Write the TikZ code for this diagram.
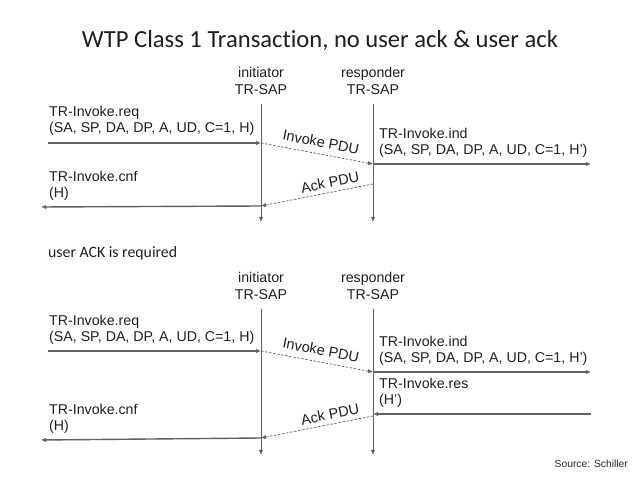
\documentclass[tikz,border=0pt]{standalone}
\usepackage{fontspec}
\setmainfont{Liberation Sans}
\newfontfamily\calfont{Carlito}[Ligatures={NoCommon,NoContextual,NoDiscretionary}]
\usetikzlibrary{arrows.meta}
\begin{document}
\begin{tikzpicture}[x=1pt,y=-1pt,
  lbl/.style={font=\fontsize{14.2}{16}\selectfont, text=black!88, inner sep=0pt, anchor=west, align=left},
  hdr/.style={font=\fontsize{14.2}{17}\selectfont, text=black!88, inner sep=0pt, align=center},
  pdulbl/.style={font=\fontsize{14.5}{16}\selectfont, text=black!88, inner sep=0pt},
  msg/.style={draw=black!62, line width=1.4pt, -{Latex[length=5pt,width=4.5pt]}},
  pdu/.style={draw=black!62, line width=0.7pt, dash pattern=on 2.5pt off 1.6pt, -{Latex[length=5pt,width=4.5pt]}},
  life/.style={draw=black!62, line width=1pt, -{Latex[length=5pt,width=4.5pt]}},
]
\useasboundingbox (0,0) rectangle (638,478);

\node[font=\calfont\fontsize{24.6}{28}\selectfont, text=black!88, inner sep=0pt] (title) at (320,41) {WTP Class 1 Transaction, no user ack \& user ack};

% ---------- top diagram ----------
\node[hdr] (i1lab) at (261,80.5) {initiator\\TR-SAP};
\node[hdr] (r1lab) at (373,80.5) {responder\\TR-SAP};
\coordinate (i1t) at (261,104);
\coordinate (i1b) at (261,222);
\coordinate (r1t) at (373,104);
\coordinate (r1b) at (373,222);
\draw[life] (i1t) -- (i1b);
\draw[life] (r1t) -- (r1b);

\node[lbl] (req1) at (49,121) {TR-Invoke.req\\(SA, SP, DA, DP, A, UD, C=1, H)};
\coordinate (req1s) at (48,143);
\coordinate (req1e) at (261,143);
\draw[msg] (req1s) -- (req1e);

\coordinate (inv1e) at (373,164);
\draw[pdu] (req1e) -- (inv1e);
\node[pdulbl, rotate=-11] (inv1lab) at (321,142) {Invoke PDU};

\node[lbl] (ind1) at (379,143) {TR-Invoke.ind\\(SA, SP, DA, DP, A, UD, C=1, H')};
\coordinate (ind1e) at (591,164);
\draw[msg] (inv1e) -- (ind1e);

\coordinate (ack1s) at (373,184);
\coordinate (ack1e) at (261,206);
\draw[pdu] (ack1s) -- (ack1e);
\node[pdulbl, rotate=11] (ack1lab) at (330,182.5) {Ack PDU};

\node[lbl] (cnf1) at (49,186) {TR-Invoke.cnf\\(H)};
\coordinate (cnf1e) at (41,207);
\draw[msg] (ack1e) -- (cnf1e);

% ---------- middle text ----------
\node[font=\calfont\fontsize{15.8}{18}\selectfont, text=black!88, inner sep=0pt, anchor=west] (uack) at (48,253) {user ACK is required};

% ---------- bottom diagram ----------
\node[hdr] (i2lab) at (261,286) {initiator\\TR-SAP};
\node[hdr] (r2lab) at (373,286) {responder\\TR-SAP};
\coordinate (i2t) at (261,309);
\coordinate (i2b) at (261,455);
\coordinate (r2t) at (373,309);
\coordinate (r2b) at (373,455);
\draw[life] (i2t) -- (i2b);
\draw[life] (r2t) -- (r2b);

\node[lbl] (req2) at (49,330) {TR-Invoke.req\\(SA, SP, DA, DP, A, UD, C=1, H)};
\coordinate (req2s) at (48,351);
\coordinate (req2e) at (261,351);
\draw[msg] (req2s) -- (req2e);

\coordinate (inv2e) at (373,372);
\draw[pdu] (req2e) -- (inv2e);
\node[pdulbl, rotate=-11] (inv2lab) at (321,350) {Invoke PDU};

\node[lbl] (ind2) at (379,350.5) {TR-Invoke.ind\\(SA, SP, DA, DP, A, UD, C=1, H')};
\coordinate (ind2e) at (591,372);
\draw[msg] (inv2e) -- (ind2e);

\node[lbl] (res2) at (379,392.5) {TR-Invoke.res\\(H')};
\coordinate (res2s) at (591,414);
\coordinate (res2e) at (373,414);
\draw[msg] (res2s) -- (res2e);

\coordinate (ack2s) at (373,416);
\coordinate (ack2e) at (261,438);
\draw[pdu] (ack2s) -- (ack2e);
\node[pdulbl, rotate=11] (ack2lab) at (330,414.5) {Ack PDU};

\node[lbl] (cnf2) at (49,419) {TR-Invoke.cnf\\(H)};
\coordinate (cnf2e) at (41,440);
\draw[msg] (ack2e) -- (cnf2e);

\node[font=\fontsize{10.3}{12}\selectfont, text=black!85, inner sep=0pt, anchor=east] (src) at (628,464) {Source: Schiller};
\end{tikzpicture}
\end{document}
